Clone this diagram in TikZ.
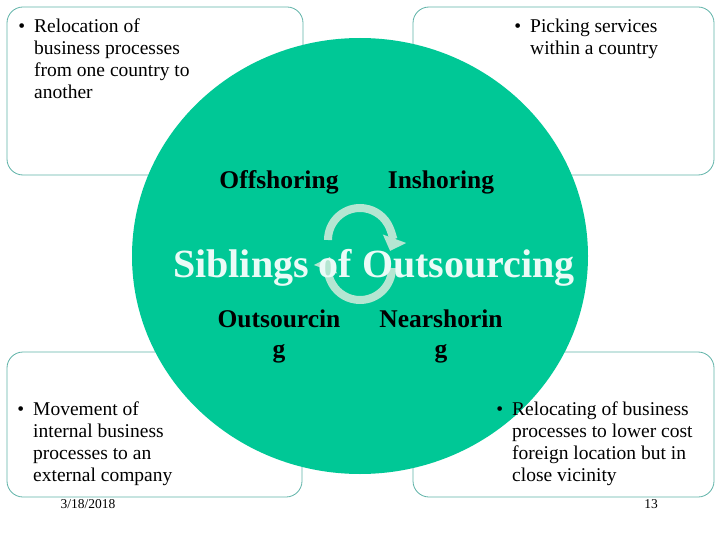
\documentclass[tikz,border=0pt]{standalone}
\usepackage{fontspec}
\setmainfont{Liberation Serif}
\usetikzlibrary{arrows.meta}
\definecolor{teal}{HTML}{00C896}
\definecolor{boxline}{HTML}{5FB3A8}
\definecolor{arc}{HTML}{B5E6D2}
\begin{document}
\begin{tikzpicture}[x=1pt,y=-1pt,
  box/.style={draw=boxline,line width=0.8pt,rounded corners=16pt,fill=white},
  bul/.style={anchor=north west,align=left,font=\fontsize{19.5}{21.7}\selectfont,inner sep=0pt},
  lab/.style={font=\bfseries\fontsize{25.5}{30}\selectfont,align=center,inner sep=0pt},
  arcst/.style={draw=arc,line width=8pt,-{Triangle[length=13pt,width=24pt]}}]
\useasboundingbox (0,0) rectangle (720,540);
\fill[white] (0,0) rectangle (720,540);
\draw[box] (7,7) rectangle (303,175);
\draw[box] (413,7) rectangle (714,175);
\draw[box] (7,352) rectangle (302,497);
\draw[box] (413,352) rectangle (714,497);
\fill[teal] (360,256) ellipse [x radius=228, y radius=218];
\draw[arcst] (328,240) arc[start angle=180,end angle=380,radius=32];
\draw[arcst] (392,268) arc[start angle=0,end angle=200,radius=32];
\node[font=\bfseries\fontsize{40}{46}\selectfont,text=white!92!teal,inner sep=0pt] (t) at (374,268) {Siblings of Outsourcing};
\node[lab] (off) at (279,182) {Offshoring};
\node[lab] (in) at (441,182) {Inshoring};
\node[lab] (out) at (279,336) {Outsourcin\\g};
\node[lab] (near) at (441,336) {Nearshorin\\g};
\node[bul] (b1) at (34,19) {\llap{•\hspace{9pt}}Relocation of\\business processes\\from one country to\\another};
\node[bul] (b2) at (530,19) {\llap{•\hspace{9pt}}Picking services\\within a country};
\node[bul] (b3) at (33,402) {\llap{•\hspace{9pt}}Movement of\\internal business\\processes to an\\external company};
\node[bul] (b4) at (512,402) {\llap{•\hspace{9pt}}Relocating of business\\processes to lower cost\\foreign location but in\\close vicinity};
\node[font=\fontsize{13.5}{15}\selectfont] (d) at (88,504) {3/18/2018};
\node[font=\fontsize{13.5}{15}\selectfont] (n) at (651,504) {13};
\end{tikzpicture}
\end{document}
